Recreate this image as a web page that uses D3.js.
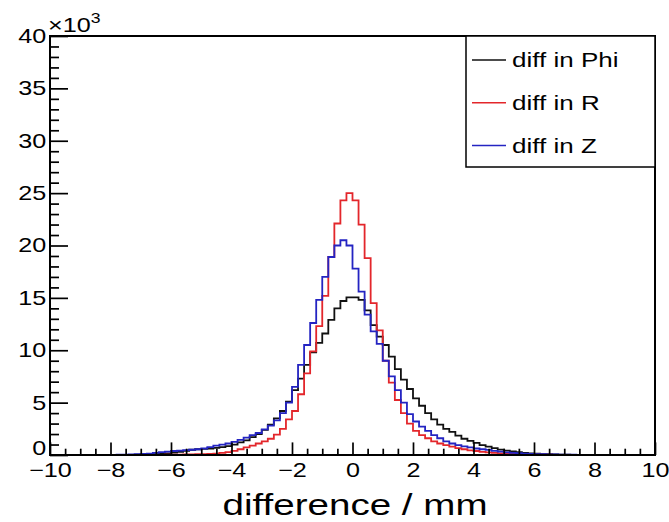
<!DOCTYPE html>
<html>
<head>
<meta charset="utf-8">
<script src="https://cdn.jsdelivr.net/npm/d3@7"></script>
<style>
  body { margin: 0; background: #fff; }
  text { font-family: "Liberation Sans", Arial, sans-serif; fill: #000; }
</style>
</head>
<body>
<div id="chart"></div>
<script>
// bin contents in units of 10^3 entries, 100 bins of 0.2 mm from -10 to 10
let phiK = [
  0, 0, 0, 0, 0, 0, 0, 0, 0, 0,
  0, 0, 0.01, 0.02, 0.03, 0.05, 0.07, 0.09, 0.12, 0.16,
  0.22, 0.3, 0.4, 0.5, 0.55, 0.58, 0.62, 0.68, 0.75, 0.85,
  1.0, 1.2, 1.4, 1.7, 2.0, 2.4, 2.9, 3.5, 4.2, 5.1,
  6.2, 7.3, 8.6, 9.8, 10.7, 11.6, 12.9, 14.0, 14.7, 15.05,
  15.05, 14.8, 13.8, 12.4, 11.3, 10.5, 9.4, 8.2, 7.2, 6.3,
  5.4, 4.7, 4.0, 3.4, 2.9, 2.5, 2.2, 1.85, 1.55, 1.35,
  1.15, 0.95, 0.8, 0.65, 0.52, 0.42, 0.34, 0.27, 0.21, 0.16,
  0.12, 0.09, 0.07, 0.05, 0.04, 0.03, 0.02, 0.02, 0.01, 0,
  0, 0, 0, 0, 0, 0, 0, 0, 0, 0
];
let rK = [
  0, 0, 0, 0, 0, 0, 0, 0, 0, 0,
  0, 0, 0, 0, 0, 0.01, 0.01, 0.02, 0.02, 0.03,
  0.03, 0.04, 0.05, 0.06, 0.07, 0.08, 0.1, 0.14, 0.2, 0.28,
  0.4, 0.55, 0.72, 0.9, 1.1, 1.3, 1.55, 1.95, 2.5, 3.4,
  4.2, 5.8, 7.8, 9.9, 12.3, 15.2, 18.9, 22.1, 24.3, 25.0,
  24.3, 22.0, 18.8, 14.5, 11.9, 9.0, 6.9, 5.25, 4.0, 3.0,
  2.3, 1.9, 1.6, 1.3, 1.1, 0.95, 0.8, 0.65, 0.55, 0.45,
  0.38, 0.3, 0.25, 0.2, 0.16, 0.13, 0.1, 0.08, 0.06, 0.05,
  0.04, 0.03, 0.03, 0.02, 0.02, 0.02, 0.01, 0.01, 0.01, 0.01,
  0.01, 0, 0, 0, 0, 0, 0, 0, 0, 0
];
let zK = [
  0, 0, 0, 0, 0, 0, 0, 0, 0, 0,
  0.02, 0.03, 0.04, 0.06, 0.08, 0.1, 0.14, 0.2, 0.28, 0.33,
  0.38, 0.42, 0.46, 0.5, 0.55, 0.62, 0.75, 0.9, 1.0, 1.1,
  1.25, 1.45, 1.65, 1.9, 2.1, 2.45, 2.8, 3.3, 4.0, 5.0,
  6.5, 8.6, 10.5, 12.6, 14.8, 17.0, 18.9, 20.0, 20.5, 20.0,
  17.8, 15.6, 13.4, 11.8, 10.6, 9.0, 7.5, 6.2, 5.0, 3.9,
  3.2, 2.7, 2.3, 1.9, 1.6, 1.3, 1.1, 0.95, 0.82, 0.72,
  0.62, 0.55, 0.48, 0.4, 0.32, 0.26, 0.21, 0.17, 0.14, 0.11,
  0.09, 0.07, 0.06, 0.05, 0.04, 0.03, 0.03, 0.02, 0.02, 0.01,
  0.01, 0, 0, 0, 0, 0, 0, 0, 0, 0
];

let seriesNames = ["diff in Phi", "diff in R", "diff in Z"];
let seriesColors = ["#111111", "#e3262b", "#2424c2"];
let xTicks = [-10, -8, -6, -4, -2, 0, 2, 4, 6, 8, 10];
let yTicks = [0, 5, 10, 15, 20, 25, 30, 35, 40];

let xMin = -10, xMax = 10, binW = 0.2;

// set the dimensions and margins of the graph
let margin = { top: 36, right: 14, bottom: 67, left: 50 },
	w = 669 - margin.left - margin.right,
	h = 522 - margin.top - margin.bottom;

let stretch = 1.26; // text in the picture is a bit wide

let svg = d3.select("#chart")
	.append("svg")
	.attr("width", w + margin.left + margin.right)
	.attr("height", h + margin.top + margin.bottom)
	.append("g")
	.attr("transform", "translate(" + margin.left + "," + margin.top + ")");

let x = d3.scaleLinear().domain([xMin, xMax]).range([0, w]);
let y = d3.scaleLinear().domain([0, 40]).range([h, 0]);

// histograms as steps
let line = d3.line()
	.x(function (d) { return x(d[0]); })
	.y(function (d) { return y(d[1]); })
	.curve(d3.curveStepAfter);

[phiK, rK, zK].forEach(function (vals, k) {
	let pts = vals.map(function (v, i) { return [xMin + i * binW, v]; });
	pts.push([xMax, vals[vals.length - 1]]);
	svg.append("path")
		.datum(pts)
		.attr("fill", "none")
		.attr("stroke", seriesColors[k])
		.attr("stroke-width", 1.8)
		.attr("d", line);
});

// frame
svg.append("rect")
	.attr("x", 0).attr("y", 0)
	.attr("width", w).attr("height", h)
	.attr("fill", "none")
	.attr("stroke", "#000")
	.attr("stroke-width", 2);

// X axis, ticks pointing inside
let xMinor = d3.range(xMin, xMax + 0.001, 0.5).filter(function (v) { return xTicks.indexOf(v) < 0; });
svg.append("g")
	.attr("transform", "translate(0," + h + ")")
	.call(d3.axisBottom(x).tickValues(xMinor).tickFormat("").tickSizeInner(-6.3).tickSizeOuter(0));
let gx = svg.append("g")
	.attr("transform", "translate(0," + h + ")")
	.call(d3.axisBottom(x).tickValues(xTicks).tickSizeInner(-12.6).tickSizeOuter(0).tickPadding(8)
		.tickFormat(function (d) { return d < 0 ? "\u2212" + Math.abs(d) : d; }));

// Y axis
let yMinor = d3.range(0, 40.001, 1).filter(function (v) { return yTicks.indexOf(v) < 0; });
svg.append("g")
	.call(d3.axisLeft(y).tickValues(yMinor).tickFormat("").tickSizeInner(-9).tickSizeOuter(0));
let gy = svg.append("g")
	.call(d3.axisLeft(y).tickValues(yTicks).tickSizeInner(-18).tickSizeOuter(0).tickPadding(3));

svg.selectAll(".domain").remove();
svg.selectAll(".tick line").attr("stroke", "#000").attr("stroke-width", 1.7);
svg.selectAll(".tick text")
	.attr("font-size", 20)
	.attr("font-family", "Liberation Sans, Arial, sans-serif")
	.attr("fill", "#000")
	.attr("transform", "scale(" + stretch + ",1)");

// the "0" of the y axis sits just above the x labels
gy.selectAll(".tick text").filter(function (d) { return d === 0; }).attr("dy", "-0.05em");

// exponent above the y axis
let expo = svg.append("text")
	.attr("x", -2 / stretch)
	.attr("y", -4)
	.attr("font-size", 20)
	.attr("transform", "scale(" + stretch + ",1)");
expo.append("tspan").text("\u00d710");
expo.append("tspan").attr("font-size", 14).attr("dy", -9).text("3");

// x title
svg.append("text")
	.attr("x", 0)
	.attr("y", 0)
	.attr("font-size", 29)
	.attr("text-anchor", "middle")
	.attr("transform", "translate(" + (355 - margin.left) + "," + (515 - margin.top) + ") scale(1.33,1)")
	.text("difference / mm");

// legend
let lg = svg.append("g").attr("transform", "translate(" + (466 - margin.left) + ",0)");
lg.append("rect")
	.attr("width", w - (466 - margin.left))
	.attr("height", 131)
	.attr("fill", "#fff")
	.attr("stroke", "#000")
	.attr("stroke-width", 1.5);
seriesNames.forEach(function (name, k) {
	let cy = 24 + k * 42.8;
	lg.append("line")
		.attr("x1", 6).attr("x2", 40)
		.attr("y1", cy).attr("y2", cy)
		.attr("stroke", seriesColors[k])
		.attr("stroke-width", 1.5);
	lg.append("text")
		.attr("transform", "translate(46," + (cy + 7) + ") scale(1.3,1)")
		.attr("font-size", 20)
		.text(name);
});
</script>
</body>
</html>
